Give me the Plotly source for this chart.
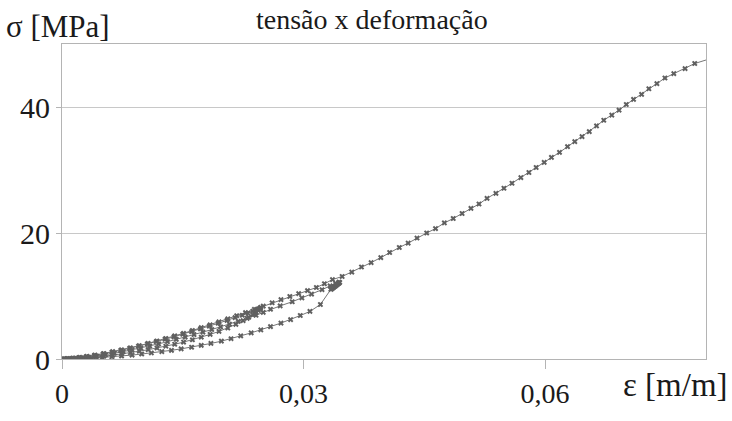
import plotly.graph_objects as go

# Stress-strain record of a cyclic test: load/unload cycles, then monotonic loading.
# Strain in m/m, stress in MPa.

# first loading up to ~8 MPa
load1_strain = [0.0000, 0.0006, 0.0013, 0.0021, 0.0030, 0.0040, 0.0051, 0.0062, 0.0073, 0.0084,
                0.0095, 0.0106, 0.0117, 0.0128, 0.0139, 0.0150, 0.0161, 0.0172, 0.0183, 0.0194,
                0.0205, 0.0215, 0.0224, 0.0231, 0.0237, 0.0241, 0.0244, 0.0246, 0.0247]
load1_stress = [0.00, 0.05, 0.12, 0.22, 0.36, 0.55, 0.80, 1.08, 1.38, 1.70,
                2.03, 2.38, 2.75, 3.13, 3.52, 3.93, 4.35, 4.78, 5.22, 5.67,
                6.13, 6.56, 6.95, 7.28, 7.58, 7.80, 7.97, 8.10, 8.20]

# first unloading
unload1_strain = [0.0246, 0.0244, 0.0241, 0.0237, 0.0232, 0.0225, 0.0216, 0.0206, 0.0195, 0.0184,
                  0.0173, 0.0162, 0.0151, 0.0140, 0.0129, 0.0118, 0.0107, 0.0096, 0.0085, 0.0074,
                  0.0063, 0.0052, 0.0042, 0.0033, 0.0025, 0.0018, 0.0012, 0.0007, 0.0003]
unload1_stress = [7.95, 7.70, 7.40, 7.05, 6.62, 6.10, 5.50, 4.92, 4.38, 3.90,
                  3.46, 3.05, 2.68, 2.34, 2.03, 1.75, 1.48, 1.24, 1.01, 0.80,
                  0.61, 0.45, 0.31, 0.20, 0.12, 0.06, 0.03, 0.01, 0.00]

# second loading up to ~12 MPa
load2_strain = [0.0003, 0.0009, 0.0016, 0.0024, 0.0033, 0.0043, 0.0054, 0.0065, 0.0076, 0.0087,
                0.0098, 0.0109, 0.0120, 0.0131, 0.0142, 0.0153, 0.0164, 0.0175, 0.0186, 0.0197,
                0.0208, 0.0219, 0.0230, 0.0241, 0.0250, 0.0259, 0.0271, 0.0286, 0.0298, 0.0310,
                0.0323, 0.0333, 0.0340, 0.0344]
load2_stress = [0.00, 0.04, 0.10, 0.18, 0.30, 0.46, 0.67, 0.91, 1.17, 1.45,
                1.75, 2.07, 2.40, 2.75, 3.11, 3.48, 3.87, 4.27, 4.68, 5.10,
                5.53, 5.97, 6.45, 6.95, 7.40, 7.90, 8.43, 9.09, 9.70, 10.30,
                11.00, 11.60, 12.00, 12.20]

# hold at peak strain (stress relaxation)
hold_strain = [0.0345, 0.0344, 0.0343, 0.0342, 0.0341, 0.0340, 0.0339, 0.0338, 0.0337, 0.0336,
               0.0335, 0.0334]
hold_stress = [12.15, 12.05, 11.95, 11.85, 11.75, 11.65, 11.55, 11.45, 11.35, 11.25,
               11.15, 11.05]

# second unloading
unload2_strain = [0.0321, 0.0308, 0.0296, 0.0284, 0.0272, 0.0259, 0.0247, 0.0235, 0.0222, 0.0210,
                  0.0198, 0.0185, 0.0173, 0.0161, 0.0148, 0.0136, 0.0124, 0.0111, 0.0099, 0.0087,
                  0.0074, 0.0062, 0.0050, 0.0037, 0.0025, 0.0014, 0.0006, 0.0002]
unload2_stress = [8.65, 7.55, 6.90, 6.25, 5.70, 5.15, 4.62, 4.15, 3.68, 3.22,
                  2.83, 2.47, 2.16, 1.87, 1.61, 1.38, 1.16, 0.96, 0.79, 0.62,
                  0.47, 0.34, 0.23, 0.13, 0.06, 0.02, 0.00, 0.00]

# final reloading, continued to the end of the test
load3_strain = [0.0001, 0.0007, 0.0014, 0.0022, 0.0031, 0.0041, 0.0052, 0.0063, 0.0074, 0.0085,
                0.0096, 0.0107, 0.0118, 0.0129, 0.0140, 0.0151, 0.0162, 0.0173, 0.0184, 0.0195,
                0.0206, 0.0217, 0.0228, 0.0239, 0.0250, 0.0261, 0.0272, 0.0283, 0.0294, 0.0305,
                0.0316, 0.0326, 0.0336,
                0.0348, 0.0360, 0.0372, 0.0384, 0.0396, 0.0407, 0.0419, 0.0430, 0.0441, 0.0453,
                0.0464, 0.0475, 0.0486, 0.0497, 0.0508, 0.0518, 0.0528, 0.0539, 0.0549, 0.0559,
                0.0570, 0.0580, 0.0589, 0.0599, 0.0608, 0.0618, 0.0628, 0.0637, 0.0646, 0.0655,
                0.0664, 0.0673, 0.0683, 0.0692, 0.0701, 0.0710, 0.0720, 0.0729, 0.0739, 0.0749,
                0.0760, 0.0774, 0.0786, 0.0811]
load3_stress = [0.00, 0.06, 0.15, 0.27, 0.43, 0.63, 0.88, 1.16, 1.46, 1.78,
                2.12, 2.48, 2.86, 3.25, 3.66, 4.08, 4.52, 4.97, 5.43, 5.90,
                6.38, 6.87, 7.37, 7.88, 8.40, 8.92, 9.43, 9.92, 10.38, 10.85,
                11.35, 11.95, 12.60,
                13.10, 13.80, 14.60, 15.30, 16.10, 16.90, 17.70, 18.40, 19.20, 20.00,
                20.70, 21.60, 22.30, 23.10, 23.90, 24.60, 25.50, 26.30, 27.10, 27.90,
                28.80, 29.60, 30.40, 31.20, 32.00, 32.80, 33.70, 34.50, 35.30, 36.10,
                37.00, 37.90, 38.70, 39.50, 40.40, 41.20, 42.00, 42.90, 43.70, 44.60,
                45.30, 46.10, 46.90, 47.90]

x_ticks = [0, 0.03, 0.06]
x_tick_text = ["0", "0,03", "0,06"]
y_ticks = [0, 20, 40]

strain = load1_strain + unload1_strain + load2_strain + hold_strain + unload2_strain + load3_strain
stress = load1_stress + unload1_stress + load2_stress + hold_stress + unload2_stress + load3_stress

FONT = "Liberation Serif, Times New Roman, serif"
TEXT = "#1a1a1a"
AXIS_GREY = "#b4b4b4"

fig = go.Figure(
    go.Scatter(
        x=strain, y=stress, mode="lines+markers",
        line=dict(color="#767676", width=1),
        marker=dict(symbol="x", size=5, color="#606060", line=dict(width=0)),
        showlegend=False, hoverinfo="x+y",
    )
)

fig.update_layout(
    width=732, height=421,
    margin=dict(l=62, r=26, t=44, b=51),
    paper_bgcolor="white", plot_bgcolor="white",
    font=dict(family=FONT, size=28, color=TEXT),
    title=dict(text="tensão x deformação", x=0.508, xanchor="center",
               y=0.977, yanchor="top", font=dict(family=FONT, size=28, color=TEXT)),
    separators=",.",
)

fig.update_xaxes(
    range=[0, 0.08], tickvals=x_ticks, ticktext=x_tick_text,
    tickfont=dict(family=FONT, size=28, color=TEXT),
    showgrid=False, zeroline=False,
    showline=True, linecolor=AXIS_GREY, linewidth=1, mirror=True,
    ticks="outside", ticklen=9, tickcolor=AXIS_GREY, tickwidth=1,
)
fig.update_yaxes(
    range=[0, 50], tickvals=y_ticks,
    tickfont=dict(family=FONT, size=30, color=TEXT),
    showgrid=True, gridcolor="#c8c8c8", gridwidth=1, zeroline=False,
    showline=True, linecolor=AXIS_GREY, linewidth=1, mirror=True,
    ticks="outside", ticklen=5, tickcolor=AXIS_GREY, tickwidth=1,
)

fig.add_annotation(text="σ [MPa]", xref="paper", yref="paper", x=-0.09, y=0.995,
                   xanchor="left", yanchor="bottom", showarrow=False,
                   font=dict(family=FONT, size=31, color=TEXT))
fig.add_annotation(text="ε [m/m]", xref="paper", yref="paper", x=1.037, y=-0.02,
                   xanchor="right", yanchor="top", showarrow=False,
                   font=dict(family=FONT, size=33, color=TEXT))

fig.write_html("out.html")
